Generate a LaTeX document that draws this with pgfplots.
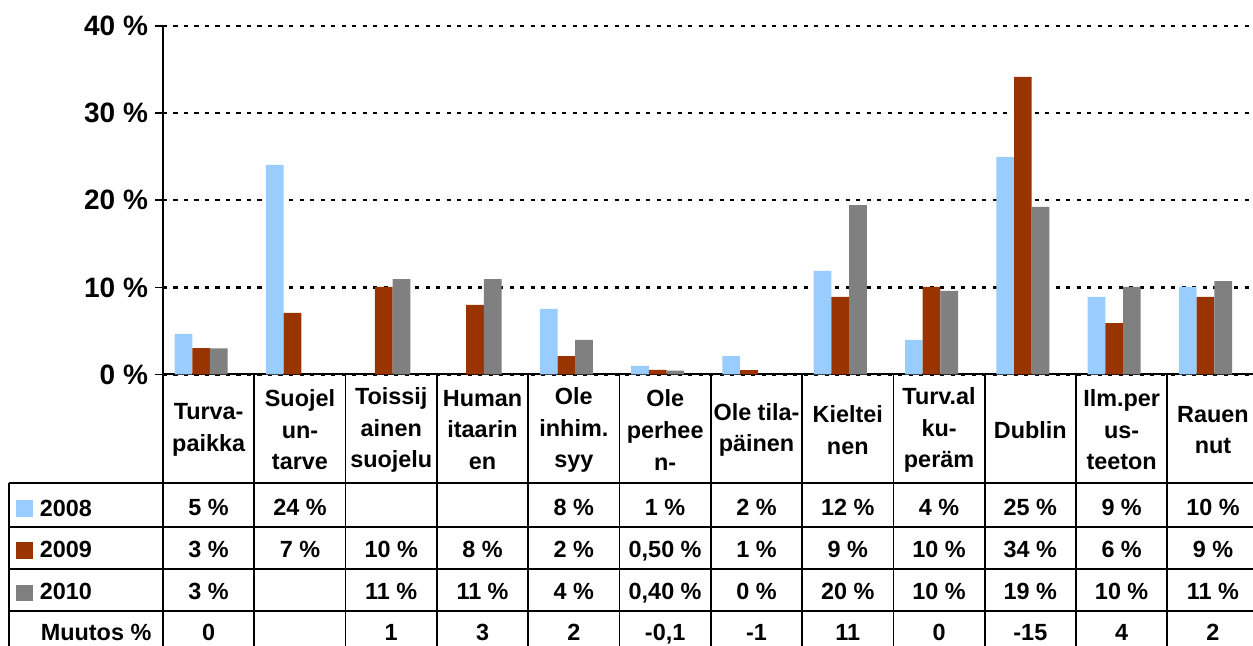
\documentclass[border=0pt]{standalone}
\usepackage{pgfplots}
\pgfplotsset{compat=1.18}
\usepackage{fontspec}
\setmainfont{Liberation Sans}
\definecolor{c2008}{HTML}{99CCFF}
\definecolor{c2009}{HTML}{993300}
\definecolor{c2010}{HTML}{808080}
\newcommand\tabfont{\bfseries\fontsize{11.7}{15.8}\selectfont}

\begin{document}
\begin{tikzpicture}[font=\bfseries]
\begin{axis}[
  at={(0,0)}, anchor=south west,
  scale only axis, width=547.8pt, height=174.25pt,
  ybar, bar width=8.85pt,
  xmin=-0.5, xmax=11.5, ymin=0, ymax=40, enlargelimits=false,
  xtick=\empty,
  ytick={0,10,20,30,40},
  yticklabels={0 \%,10 \%,20 \%,30 \%,40 \%},
  yticklabel style={font=\bfseries\fontsize{14}{16}\selectfont},
  axis x line=bottom, axis y line=left,
  axis line style={-, black, line width=1pt},
  tick align=outside, major tick length=4pt,
  tick style={black, line width=0.8pt},
  ymajorgrids, grid style={black, line width=1.15pt, dash pattern=on 2.1pt off 3.15pt},
]
% 2008
\addplot[fill=c2008, draw=none, bar shift=-12.6pt] coordinates {
  (0,4.65) (1,24.05) (4,7.52) (5,0.98) (6,2.12) (7,11.88)
  (8,3.96) (9,24.97) (10,8.9) (11,10.05)
};
% 2009
\addplot[fill=c2009, draw=none, bar shift=-3.75pt] coordinates {
  (0,3.04) (1,7.06) (2,10.05) (3,7.98) (4,2.12) (5,0.52) (6,0.5)
  (7,8.9) (8,10.05) (9,34.16) (10,5.91) (11,8.9)
};
% 2010
\addplot[fill=c2010, draw=none, bar shift=5.1pt] coordinates {
  (0,3.0) (2,10.96) (3,10.96) (4,3.96) (5,0.45) (7,19.45)
  (8,9.59) (9,19.23) (10,10.05) (11,10.73)
};
\end{axis}

% data table, in reference pixels
\begin{scope}[shift={(-81.5pt,187.25pt)}, x=0.5pt, y=-0.5pt, line width=0.85pt]
  \draw (163,374.5) -- (163,660);
  \foreach \i in {1,...,12}
    \draw (163+91.3*\i,374.5) -- (163+91.3*\i,660);
  \foreach \y in {482.7,526.7,569,610.7}
    \draw (9,\y) -- (1262,\y);
  \draw (9,482.7) -- (9,660);

  \foreach \lab [count=\i from 0] in {{Turva-\\paikka},{Suojel\\un-\\tarve},
      {Toissij\\ainen\\suojelu},{Human\\itaarin\\en},{Ole\\inhim.\\syy},
      {Ole\\perhee\\n-},{Ole tila-\\päinen},{Kieltei\\nen},{Turv.al\\ku-\\peräm},
      {Dublin},{Ilm.per\\us-\\teeton},{Rauen\\nut}}
    \node[align=center, font=\tabfont, inner sep=0] at (208.65+91.3*\i,430) {\lab};

  \foreach \v [count=\i from 0] in {5 \%,24 \%,{},{},8 \%,1 \%,2 \%,12 \%,4 \%,25 \%,9 \%,10 \%}
    \node[anchor=base, font=\tabfont, inner sep=0] at (208.65+91.3*\i,515.7) {\v};
  \foreach \v [count=\i from 0] in {3 \%,7 \%,10 \%,8 \%,2 \%,{0,50 \%},1 \%,9 \%,10 \%,34 \%,6 \%,9 \%}
    \node[anchor=base, font=\tabfont, inner sep=0] at (208.65+91.3*\i,557.3) {\v};
  \foreach \v [count=\i from 0] in {3 \%,{},11 \%,11 \%,4 \%,{0,40 \%},0 \%,20 \%,10 \%,19 \%,10 \%,11 \%}
    \node[anchor=base, font=\tabfont, inner sep=0] at (208.65+91.3*\i,599.3) {\v};
  \foreach \v [count=\i from 0] in {0,{},1,3,2,{-0,1},-1,11,0,-15,4,2}
    \node[anchor=base, font=\tabfont, inner sep=0] at (208.65+91.3*\i,640.7) {\v};

  \fill[c2008] (16,500) rectangle (33,517);
  \fill[c2009] (16,542.3) rectangle (33,558.7);
  \fill[c2010] (16,584.7) rectangle (33,600.7);
  \node[anchor=base west, font=\tabfont, inner sep=0] at (39,516.7) {2008};
  \node[anchor=base west, font=\tabfont, inner sep=0] at (39,558) {2009};
  \node[anchor=base west, font=\tabfont, inner sep=0] at (39,600) {2010};
  \node[anchor=base west, font=\tabfont, inner sep=0] at (40,641) {Muutos \%};

  \pgfresetboundingbox
  \useasboundingbox (0,0) rectangle (1253,646);
\end{scope}
\end{tikzpicture}
\end{document}
